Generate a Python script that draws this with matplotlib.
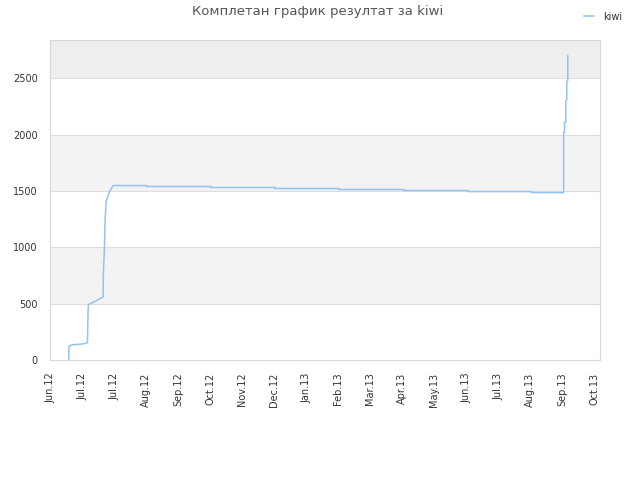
import matplotlib
matplotlib.use('Agg')
import matplotlib.pyplot as plt

# x in month units (0 = first tick), y = result
tick_labels = ['Jun.12', 'Jul.12', 'Jul.12', 'Aug.12', 'Sep.12', 'Oct.12', 'Nov.12',
               'Dec.12', 'Jan.13', 'Feb.13', 'Mar.13', 'Apr.13', 'May.13', 'Jun.13',
               'Jul.13', 'Aug.13', 'Sep.13', 'Oct.13']

kiwi_x = [0.59, 0.59, 0.63, 0.69, 0.94, 1.12, 1.17, 1.19, 1.20, 1.25, 1.44, 1.66,
          1.67, 1.70, 1.72, 1.75, 1.78, 1.84, 1.91, 1.97,
          3.02, 3.02, 5.03, 5.03, 7.03, 7.03, 9.03, 9.03, 11.06, 11.06,
          13.06, 13.06, 15.06, 15.06, 16.05, 16.05, 16.08, 16.08, 16.12, 16.12,
          16.15, 16.15, 16.18, 16.18]
kiwi_y = [0, 118, 128, 135, 140, 148, 155, 440, 490, 500, 525, 560,
          780, 990, 1220, 1400, 1430, 1480, 1520, 1548,
          1548, 1540, 1540, 1531, 1531, 1522, 1522, 1513, 1513, 1504,
          1504, 1495, 1495, 1486, 1486, 2020, 2020, 2110, 2110, 2300,
          2310, 2470, 2480, 2704]

fig = plt.figure(figsize=(6.4, 4.8), dpi=100)
ax = fig.add_axes([50 / 640, 120 / 480, 550 / 640, 320 / 480])

ymax = 2840
xmax = 550 / 32.0

# alternating background bands
bands = [(500, 1000, '#f3f3f3'), (1500, 2000, '#f3f3f3'), (2500, ymax, '#eeeeee')]
for lo, hi, c in bands:
    ax.axhspan(lo, hi, color=c, zorder=0, lw=0)
for v in range(500, 3000, 500):
    ax.axhline(v, color='#dddddd', lw=0.8, zorder=1)

ax.plot(kiwi_x, kiwi_y, color='#92c3f4', lw=1.1, label='kiwi', zorder=3)

ax.set_xlim(0, xmax)
ax.set_ylim(0, ymax)
ax.set_xticks(range(len(tick_labels)))
ax.set_xticklabels(tick_labels, rotation=90, fontsize=7, color='#333333')
ax.set_yticks([0, 500, 1000, 1500, 2000, 2500])
ax.tick_params(axis='y', labelsize=7, labelcolor='#333333', length=0, pad=9)
ax.tick_params(axis='x', length=0, pad=9)
for s in ax.spines.values():
    s.set_color('#d8d8d8')
    s.set_linewidth(0.8)

fig.text(318 / 640, 1 - 12 / 480, 'Комплетан график резултат за kiwi',
         ha='center', va='center', fontsize=9.5, color='#555555')
leg = fig.legend(loc='upper right', bbox_to_anchor=(631 / 640, 1 - 3 / 480),
                 frameon=False, fontsize=7, handlelength=1.1, handletextpad=0.9)
for t in leg.get_texts():
    t.set_color('#333333')

fig.savefig('out.png', dpi=100)
